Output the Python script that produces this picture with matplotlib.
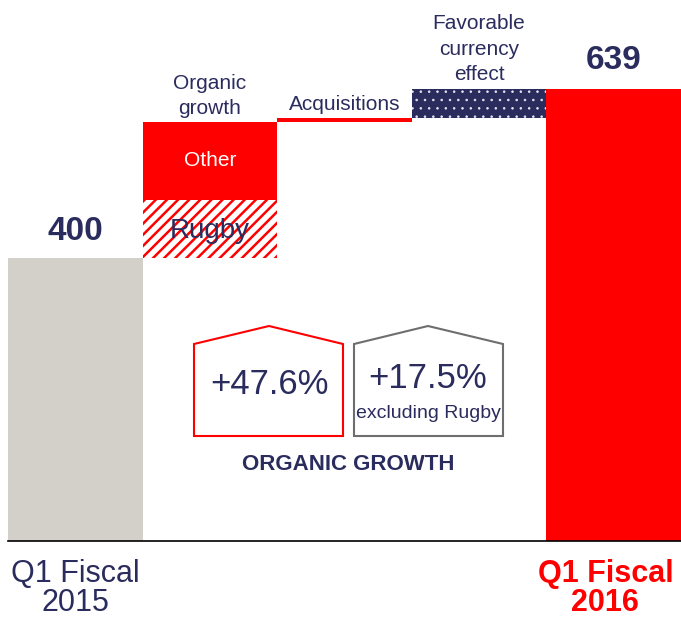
import matplotlib
matplotlib.use("Agg")
import matplotlib.pyplot as plt
from matplotlib.patches import Polygon

plt.rcParams['font.family'] = ['Liberation Sans', 'DejaVu Sans']

# ── data ─────────────────────────────────────────────
steps      = ["Q1 Fiscal\n2015", "Organic growth", "Acquisitions", "Favorable currency effect", "Q1 Fiscal\n2016"]
start_val  = 400
rugby      = 82
other      = 110
acquis     = 5
currency   = 42
end_val    = 639
organic_pct      = "+47.6%"
organic_ex_rugby = "+17.5%"

NAVY = '#2B2C5E'
RED  = '#FF0000'
GRAY = '#D3D0CA'

fig = plt.figure(figsize=(6.81, 6.19), dpi=100)
W, H = 681, 619
ax = fig.add_axes([8 / W, 78 / H, 673 / W, 541 / H])
ax.set_xlim(-0.5, 4.5)
ax.set_ylim(0, 764)

# waterfall bars
ax.bar(0, start_val, width=1.0, color=GRAY, lw=0)
with plt.rc_context({'hatch.linewidth': 1.8}):
    ax.bar(1, rugby, bottom=start_val, width=1.0, facecolor='white',
           edgecolor=RED, hatch='///', lw=0)
ax.bar(1, other, bottom=start_val + rugby, width=1.0, color=RED, lw=0)
ax.bar(2, acquis, bottom=start_val + rugby + other, width=1.0, color=RED, lw=0)
with plt.rc_context({'hatch.linewidth': 0.6}):
    ax.bar(3, currency, bottom=start_val + rugby + other + acquis, width=1.0,
           facecolor=NAVY, edgecolor='#E4E4EE', hatch='..', lw=0)
ax.bar(4, end_val, width=1.0, color=RED, lw=0)

# bar labels
ax.annotate(f"{start_val}", (0, start_val), xytext=(0, 8), textcoords='offset points',
            ha='center', va='bottom', fontsize=24, fontweight='bold', color=NAVY)
ax.annotate(f"{end_val}", (4, end_val), xytext=(0, 9), textcoords='offset points',
            ha='center', va='bottom', fontsize=24, fontweight='bold', color=NAVY)
ax.annotate("Rugby", (1, start_val + rugby / 2), xytext=(0, -2), textcoords='offset points',
            ha='center', va='center', fontsize=20, color=NAVY)
ax.text(1, start_val + rugby + other / 2, "Other", ha='center', va='center', fontsize=15, color='white')
ax.annotate("Organic\ngrowth", (1, start_val + rugby + other), xytext=(0, 3),
            textcoords='offset points', ha='center', va='bottom', fontsize=15,
            color=NAVY, linespacing=1.4)
ax.annotate("Acquisitions", (2, start_val + rugby + other + acquis), xytext=(0, 3),
            textcoords='offset points', ha='center', va='bottom', fontsize=15, color=NAVY)
ax.annotate("Favorable\ncurrency\neffect", (3, end_val), xytext=(0, 3),
            textcoords='offset points', ha='center', va='bottom', fontsize=15,
            color=NAVY, linespacing=1.45)

# category labels under the baseline
ax.annotate(steps[0], (0, 0), xytext=(0, -13), textcoords='offset points',
            ha='center', va='top', fontsize=22, color=NAVY, linespacing=0.97)
ax.annotate(steps[4], (4, 0), xytext=(-6, -13), textcoords='offset points',
            ha='center', va='top', fontsize=22, fontweight='bold', color=RED, linespacing=0.97)

# house-shaped callouts (pixel layout -> axes fraction)
def px(xp, yp):
    return ((xp - 8) / 673, (541 - yp) / 541)

red_house  = [px(194, 436), px(194, 344), px(269, 326), px(343, 344), px(343, 436)]
gray_house = [px(354, 436), px(354, 344), px(428, 326), px(503, 344), px(503, 436)]
ax.add_patch(Polygon(red_house, closed=True, fill=False, ec=RED, lw=1.5, transform=ax.transAxes))
ax.add_patch(Polygon(gray_house, closed=True, fill=False, ec='#6E6E6E', lw=1.5, transform=ax.transAxes))

ax.text(*px(269, 384), organic_pct, transform=ax.transAxes, ha='center', va='center',
        fontsize=25, color=NAVY)
ax.text(*px(428, 379), organic_ex_rugby, transform=ax.transAxes, ha='center', va='center',
        fontsize=25, color=NAVY)
ax.text(*px(428, 413), "excluding Rugby", transform=ax.transAxes, ha='center', va='center',
        fontsize=14, color=NAVY)
ax.text(*px(348, 464), "ORGANIC GROWTH", transform=ax.transAxes, ha='center', va='center',
        fontsize=16, fontweight='bold', color=NAVY)

# axis styling
for s in ['top', 'right', 'left']:
    ax.spines[s].set_visible(False)
ax.spines['bottom'].set_color('black')
ax.spines['bottom'].set_linewidth(1.2)
ax.set_yticks([])
ax.set_xticks([])

fig.savefig("out.png", dpi=100)
